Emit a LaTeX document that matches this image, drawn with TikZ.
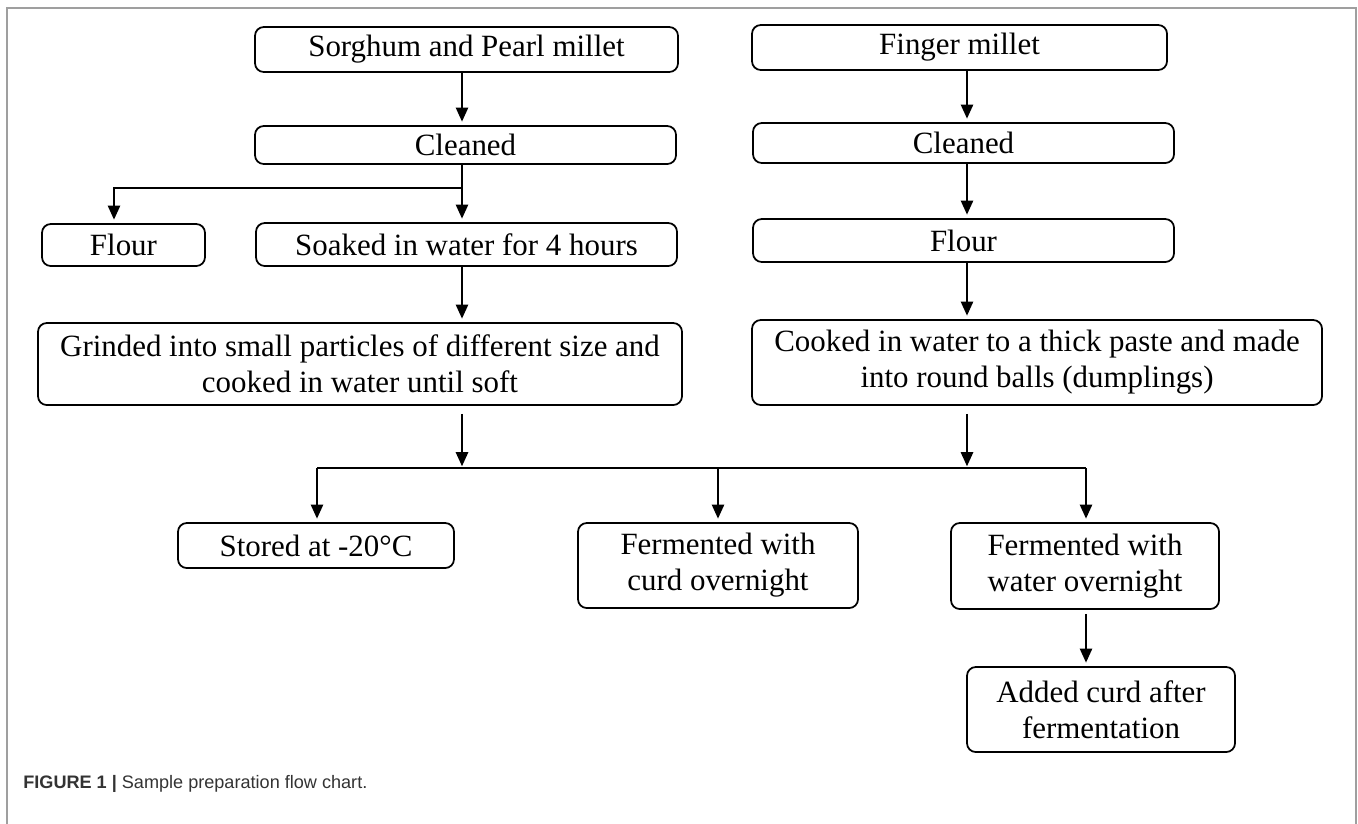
\documentclass[tikz,border=0pt]{standalone}
\usepackage{fontspec}
\setmainfont{Liberation Serif}
\newfontfamily\capfont{Liberation Sans}
\usetikzlibrary{arrows.meta}
\newcommand{\boxfont}{\fontsize{17.6}{20.5}\selectfont}
\begin{document}
\begin{tikzpicture}[x=0.02cm, y=-0.02cm,
		box/.style={draw, line width=1pt, rounded corners=5pt, align=center, inner sep=0pt, font=\boxfont},
		wh/.style 2 args={minimum width=#1*0.02cm, minimum height=#2*0.02cm},
		arr/.style={-{Triangle[width=7pt,length=8pt]}, line width=1pt, shorten >=2pt},
		ln/.style={line width=1pt}]
				\useasboundingbox (0,0) rectangle (1358,823);
				% Khung ngoài
				\draw[gray!75, line width=0.9pt] (7,840) -- (7,8) -- (1356,8) -- (1356,840);
				
				% Cột trái
				\node[box, wh={423}{45}] (sp) at (466.5,49.5) {Sorghum and Pearl millet};
				\node[box, wh={421}{38}] (cl1) at (465.5,145) {Cleaned};
				\node[box, wh={163}{42}] (fl1) at (123.5,245) {Flour};
				\node[box, wh={421}{43}] (so) at (466.5,244.5) {Soaked in water for 4 hours};
				\node[box, wh={644}{82}] (gr) at (360,364) {Grinded into small particles of different size and\\cooked in water until soft};
				
				% Cột phải
				\node[box, wh={415}{45}] (fm) at (959.5,47.5) {Finger millet};
				\node[box, wh={421}{40}] (cl2) at (963.5,143) {Cleaned};
				\node[box, wh={421}{43}] (fl2) at (963.5,240.5) {Flour};
				\node[box, wh={570}{85}] (co) at (1037,362.5) {Cooked in water to a thick paste and made\\into round balls (dumplings)};
				
				% Hàng dưới
				\node[box, wh={276}{45}] (st) at (316,545.5) {Stored at -20°C};
				\node[box, wh={280}{85}] (fc) at (718,565.5) {Fermented with\\curd overnight};
				\node[box, wh={268}{86}] (fw) at (1085,566) {Fermented with\\water overnight};
				\node[box, wh={268}{85}] (ad) at (1101,709.5) {Added curd after\\fermentation};
				
				% Điểm nối
				\coordinate (lc) at (462,0);
				\coordinate (rc) at (967,0);
				\coordinate (fa) at (114,0);
				\coordinate (jl) at (462,188);
				\coordinate (bl) at (317,468);
				\coordinate (br) at (1086,468);
				
				% Mũi tên
				\draw[arr] (sp.south -| lc) -- (cl1.north -| lc);
				\draw[ln] (cl1.south -| lc) -- (jl);
				\draw[arr] (jl) -| (fl1.north -| fa);
				\draw[arr] (jl) -- (so.north -| lc);
				\draw[arr] (so.south -| lc) -- (gr.north -| lc);
				\draw[arr] (fm.south -| rc) -- (cl2.north -| rc);
				\draw[arr] (cl2.south -| rc) -- (fl2.north -| rc);
				\draw[arr] (fl2.south -| rc) -- (co.north -| rc);
				\draw[ln] (bl) -- (br);
				\draw[arr, shorten <=4.5pt, shorten >=1pt] (gr.south -| lc) -- (bl -| lc);
				\draw[arr, shorten <=4.5pt, shorten >=1pt] (co.south -| rc) -- (br -| rc);
				\draw[arr] (bl) -- (st.north -| bl);
				\draw[arr] (bl -| fc) -- (fc.north);
				\draw[arr] (br) -- (fw.north -| br);
				\draw[arr, shorten <=2.3pt] (fw.south -| br) -- (ad.north -| br);
				
				% Chú thích
				\node[anchor=base west, inner sep=0pt, font=\capfont\fontsize{10.3}{12}\selectfont, text=black!80] (cap) at (23,788) {\textbf{FIGURE 1 |} Sample preparation flow chart.};
\end{tikzpicture}
\end{document}
